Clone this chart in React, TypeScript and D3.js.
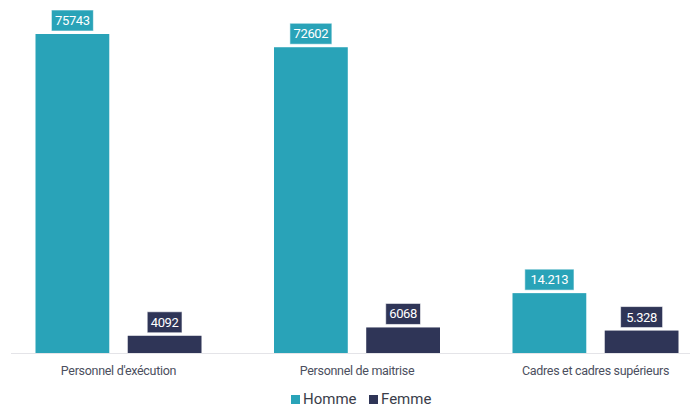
import React from 'react';
import * as d3 from 'd3';

const categories = ["Personnel d'exécution", 'Personnel de maitrise', 'Cadres et cadres supérieurs'];
const series = ['Homme', 'Femme'];
const hommeValues = [75743, 72602, 14213];
const femmeValues = [4092, 6068, 5328];
const hommeLabels = ['75743', '72602', '14.213'];
const femmeLabels = ['4092', '6068', '5.328'];
const colors = ['#29a3b8', '#2f3557'];

const W = 691;
const H = 407;
const baseY = 353;

const App: React.FC = () => {
  const xGroup = d3.scaleBand<string>().domain(categories).range([-0.75, 714.75]).padding(0);
  const xSub = d3.scaleBand<string>().domain(series).range([-83, 83]).paddingInner(0.2);
  const y = d3.scaleLinear().domain([0, 75743]).range([baseY, 34]);

  const values = [hommeValues, femmeValues];
  const labels = [hommeLabels, femmeLabels];
  const font = 'Roboto, "Noto Sans", sans-serif';

  return (
    <svg width={W} height={H} style={{ position: 'absolute', left: 0, top: 0, background: '#fff' }}>
      <line x1={11} x2={690} y1={baseY + 0.5} y2={baseY + 0.5} stroke="#e4e4e8" strokeWidth={1} />
      {categories.map((c, i) => {
        const cx = (xGroup(c) ?? 0) + xGroup.bandwidth() / 2;
        return (
          <g key={c}>
            {series.map((s, j) => {
              const v = values[j][i];
              const bx = cx + (xSub(s) ?? 0);
              const bw = xSub.bandwidth();
              const top = y(v);
              const lbl = labels[j][i];
              const tw = lbl.length * 7.2 + 6;
              const midX = bx + bw / 2;
              return (
                <g key={s}>
                  <rect x={bx} y={top} width={bw} height={baseY - top} fill={colors[j]} />
                  <rect x={midX - tw / 2} y={top - 24} width={tw} height={21} fill={colors[j]}
                    stroke="#ffffff" strokeOpacity={0.6} strokeWidth={1} />
                  <text x={midX} y={top - 9} textAnchor="middle" fill="#fff" fontFamily={font}
                    fontSize={13} style={{ letterSpacing: '-0.4px' }}>{lbl}</text>
                </g>
              );
            })}
            <text x={cx} y={375} textAnchor="middle" fill="#4b4f5e" fontFamily={font} fontSize={12.5}
              style={{ letterSpacing: '-0.3px' }}>{c}</text>
          </g>
        );
      })}
      <g fontFamily={font} fontSize={15} fill="#3a3d4a">
        <rect x={291} y={395} width={9} height={9} fill={colors[0]} />
        <text x={303} y={404}>Homme</text>
        <rect x={369} y={395} width={9} height={9} fill={colors[1]} />
        <text x={381} y={404}>Femme</text>
      </g>
    </svg>
  );
};

export default App;
